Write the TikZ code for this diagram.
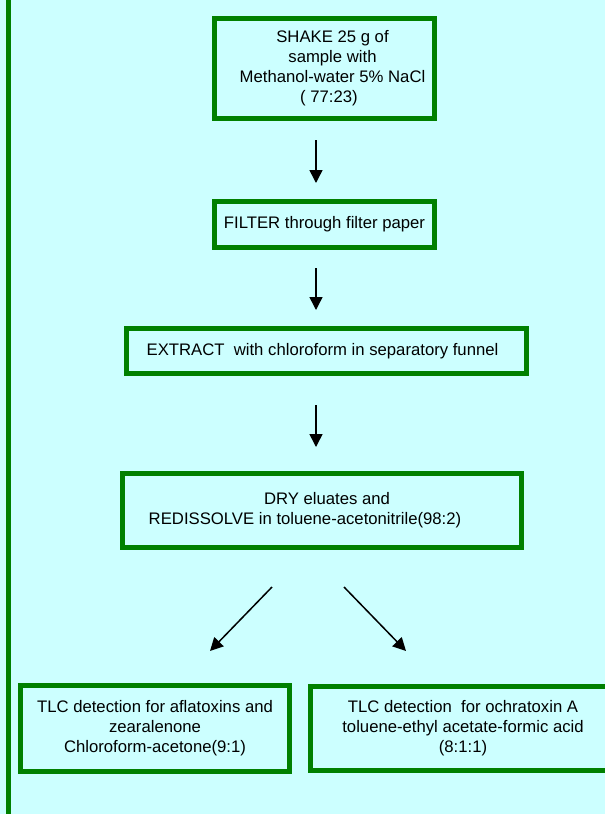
\documentclass[tikz,border=0pt]{standalone}
\usepackage{fontspec}
\setmainfont{Liberation Sans}
\usetikzlibrary{arrows.meta,calc}
\definecolor{bgcyan}{RGB}{204,255,255}
\definecolor{boxgreen}{RGB}{0,128,0}
\begin{document}
\begin{tikzpicture}[x=1pt,y=-1pt,
  stepbox/.style={draw=boxgreen, line width=5pt, inner sep=0pt, align=center,
    font=\fontsize{16.7}{20}\selectfont},
  flow/.style={-{Triangle[length=13pt,width=13pt]}, line width=1.5pt, black}]
\fill[bgcyan] (0,0) rectangle (605,814);
\useasboundingbox (0,0) rectangle (605,814);
\clip (0,0) rectangle (605,814);
% left margin bar
\coordinate (bartop) at (8.5,0);
\coordinate (barbot) at (8.5,814);
\draw[boxgreen, line width=5pt] (bartop) -- (barbot);
% boxes
\node[stepbox, minimum width=220pt, minimum height=100pt] (shake) at (324.5,68.5)
  {\hspace*{16pt}SHAKE 25 g of\\ \hspace*{16pt}sample with\\ \hspace*{16pt}Methanol-water 5\% NaCl\\ \hspace*{9pt}( 77:23)};
\node[stepbox, minimum width=220pt, minimum height=46pt] (filter) at (324.5,224.5)
  {FILTER through filter paper};
\node[stepbox, minimum width=400pt, minimum height=45pt] (extract) at (326.5,351)
  {EXTRACT\ \ with chloroform in separatory funnel\hspace*{8pt}};
\node[stepbox, minimum width=399pt, minimum height=74pt] (dry) at (322,510.5)
  {\hspace*{10pt}DRY eluates and\\ REDISSOLVE in toluene-acetonitrile(98:2)\hspace*{34pt}};
\node[stepbox, minimum width=269pt, minimum height=86pt] (tlca) at (155,728)
  {TLC detection for aflatoxins and\\ zearalenone\\ Chloroform-acetone(9:1)};
\node[stepbox, minimum width=305pt, minimum height=84pt] (tlco) at (463,728.5)
  {TLC detection\ \ for ochratoxin A\\ toluene-ethyl acetate-formic acid\\ (8:1:1)};
% arrows
\coordinate (a1s) at (316,140); \coordinate (a1e) at (316,183);
\coordinate (a2s) at (316,268); \coordinate (a2e) at (316,310);
\coordinate (a3s) at (316,405); \coordinate (a3e) at (316,447);
\coordinate (a4s) at (272,587); \coordinate (a4e) at (210,651);
\coordinate (a5s) at (344,587); \coordinate (a5e) at (406,651);
\draw[flow] (a1s) -- (a1e);
\draw[flow] (a2s) -- (a2e);
\draw[flow] (a3s) -- (a3e);
\draw[flow] (a4s) -- (a4e);
\draw[flow] (a5s) -- (a5e);
\end{tikzpicture}
\end{document}
